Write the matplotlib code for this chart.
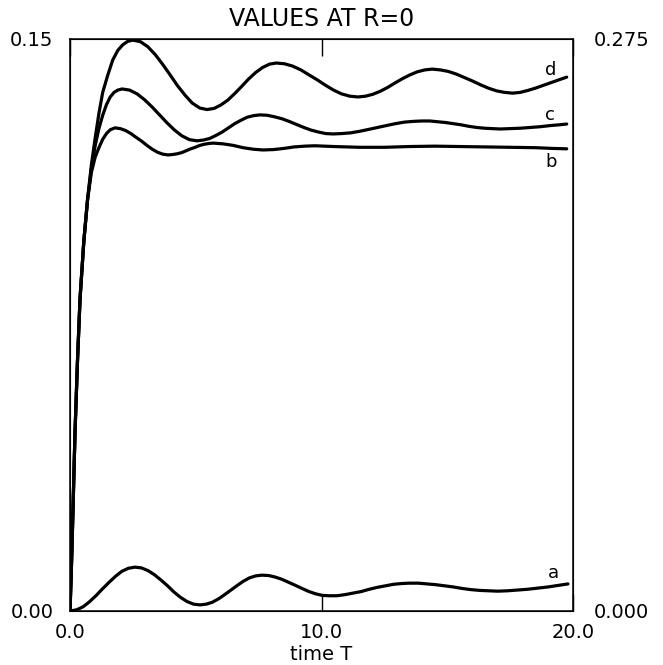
import numpy as np
import matplotlib.pyplot as plt

# values (time T, value at R=0)
t_a = [0.0, 0.26, 0.52, 0.77, 1.03, 1.29, 1.55, 1.81, 2.06, 2.32, 2.58, 2.84, 3.1, 3.36,
       3.62, 3.88, 4.13, 4.39, 4.65, 4.91, 5.17, 5.42, 5.66, 5.91, 6.15, 6.4, 6.65, 6.89,
       7.14, 7.38, 7.63, 7.9, 8.16, 8.43, 8.7, 8.97, 9.23, 9.5, 9.77, 10.03, 10.3, 10.62,
       10.94, 11.26, 11.58, 11.9, 12.22, 12.54, 12.86, 13.18, 13.5, 13.85, 14.2, 14.55,
       14.9, 15.25, 15.6, 15.95, 16.3, 16.65, 17.0, 17.4, 17.8, 18.2, 18.6, 19.0, 19.4, 19.8]
v_a = [0.0, 0.0003, 0.0011, 0.0024, 0.0040, 0.0058, 0.0075, 0.0091, 0.0104, 0.0112, 0.0115,
       0.0113, 0.0106, 0.0095, 0.0081, 0.0066, 0.0050, 0.0036, 0.0025, 0.0018, 0.0016,
       0.0018, 0.0023, 0.0032, 0.0043, 0.0055, 0.0067, 0.0078, 0.0087, 0.0092, 0.0094,
       0.0093, 0.0089, 0.0083, 0.0075, 0.0067, 0.0059, 0.0051, 0.0045, 0.0041, 0.0040,
       0.0040, 0.0043, 0.0047, 0.0051, 0.0057, 0.0062, 0.0066, 0.0070, 0.0072, 0.0073,
       0.0073, 0.0071, 0.0069, 0.0066, 0.0063, 0.0059, 0.0056, 0.0054, 0.0053, 0.0052,
       0.0053, 0.0055, 0.0057, 0.0060, 0.0063, 0.0067, 0.0071]

t_b = [0.0, 0.05, 0.1, 0.2, 0.3, 0.4, 0.55, 0.7, 0.85, 1.0, 1.15, 1.3, 1.45, 1.6, 1.79,
       2.0, 2.21, 2.42, 2.63, 2.85, 3.06, 3.27, 3.48, 3.69, 3.9, 4.08, 4.26, 4.44, 4.62,
       4.8, 4.98, 5.16, 5.34, 5.52, 5.7, 6.09, 6.49, 6.88, 7.28, 7.67, 8.08, 8.5, 8.91,
       9.33, 9.74, 10.5, 11.5, 12.5, 13.5, 14.5, 15.5, 16.5, 17.5, 18.5, 19.2, 19.75]
v_b = [0.0, 0.010, 0.022, 0.047, 0.066, 0.082, 0.097, 0.108, 0.115, 0.119, 0.1215, 0.1237,
       0.1252, 0.1262, 0.1267, 0.1265, 0.1260, 0.1252, 0.1242, 0.1232, 0.1221, 0.1211,
       0.1203, 0.1198, 0.1196, 0.1197, 0.1199, 0.1202, 0.1207, 0.1212, 0.1216, 0.1221,
       0.1224, 0.1226, 0.1227, 0.1225, 0.1221, 0.1215, 0.1211, 0.1209, 0.1210, 0.1213,
       0.1217, 0.1219, 0.1220, 0.1218, 0.1216, 0.1216, 0.1218, 0.1219, 0.1218, 0.1217,
       0.1216, 0.1215, 0.1213, 0.1212]

t_c = [0.0, 0.05, 0.1, 0.2, 0.3, 0.4, 0.55, 0.7, 0.85, 1.0, 1.15, 1.3, 1.45, 1.6, 1.75,
       1.9, 2.07, 2.37, 2.67, 2.96, 3.26, 3.56, 3.86, 4.16, 4.45, 4.75, 5.05, 5.3, 5.55,
       5.8, 6.05, 6.3, 6.55, 6.8, 7.05, 7.3, 7.55, 7.84, 8.13, 8.42, 8.71, 9.0, 9.3, 9.59,
       9.88, 10.17, 10.46, 10.81, 11.17, 11.52, 11.88, 12.23, 12.58, 12.94, 13.29, 13.65,
       14.0, 14.31, 14.62, 14.93, 15.24, 15.55, 15.86, 16.17, 16.48, 16.79, 17.1, 17.5,
       17.9, 18.3, 18.7, 19.1, 19.45, 19.75]
v_c = [0.0, 0.010, 0.022, 0.047, 0.066, 0.082, 0.097, 0.108, 0.116, 0.122, 0.1265, 0.130,
       0.1328, 0.1348, 0.136, 0.1366, 0.1369, 0.1366, 0.1356, 0.1341, 0.1322, 0.1301,
       0.1280, 0.1261, 0.1246, 0.1236, 0.1233, 0.1235, 0.1239, 0.1247, 0.1256, 0.1267,
       0.1278, 0.1287, 0.1295, 0.1299, 0.1301, 0.1300, 0.1296, 0.1291, 0.1284, 0.1276,
       0.1268, 0.1261, 0.1256, 0.1252, 0.1251, 0.1252, 0.1254, 0.1258, 0.1263, 0.1268,
       0.1273, 0.1278, 0.1282, 0.1284, 0.1285, 0.1285, 0.1283, 0.1281, 0.1278, 0.1275,
       0.1271, 0.1268, 0.1266, 0.1265, 0.1264, 0.1265, 0.1266, 0.1268, 0.1270, 0.1273,
       0.1275, 0.1277]

t_d = [0.0, 0.05, 0.1, 0.2, 0.3, 0.4, 0.55, 0.7, 0.85, 1.0, 1.15, 1.3, 1.5, 1.7, 1.9, 2.1,
       2.3, 2.5, 2.8, 3.09, 3.39, 3.68, 3.98, 4.27, 4.57, 4.86, 5.16, 5.45, 5.73, 6.0, 6.28,
       6.55, 6.83, 7.1, 7.38, 7.65, 7.93, 8.2, 8.53, 8.85, 9.18, 9.5, 9.83, 10.15, 10.48,
       10.8, 11.13, 11.45, 11.75, 12.04, 12.34, 12.63, 12.93, 13.22, 13.52, 13.81, 14.11,
       14.4, 14.72, 15.04, 15.36, 15.68, 16.0, 16.32, 16.64, 16.96, 17.28, 17.6, 17.9, 18.2,
       18.5, 18.8, 19.1, 19.4, 19.75]
v_d = [0.0, 0.010, 0.022, 0.047, 0.066, 0.082, 0.097, 0.108, 0.117, 0.124, 0.1305, 0.136,
       0.1405, 0.1445, 0.147, 0.1485, 0.1494, 0.1497, 0.1493, 0.1480, 0.1459, 0.1434,
       0.1406, 0.1378, 0.1353, 0.1332, 0.1319, 0.1315, 0.1318, 0.1327, 0.1340, 0.1357,
       0.1376, 0.1395, 0.1412, 0.1425, 0.1434, 0.1437, 0.1435, 0.1429, 0.1419, 0.1406,
       0.1393, 0.1379, 0.1366, 0.1356, 0.1350, 0.1348, 0.1350, 0.1355, 0.1363, 0.1373,
       0.1385, 0.1396, 0.1406, 0.1414, 0.1419, 0.1421, 0.1419, 0.1415, 0.1408, 0.1399,
       0.1390, 0.1380, 0.1371, 0.1364, 0.1360, 0.1358, 0.1360, 0.1365, 0.1371, 0.1378,
       0.1385, 0.1392, 0.1400]

curve_names = ["a", "b", "c", "d"]
label_pos = [(19.24, 0.0100), (19.13, 0.1178), (19.09, 0.1301), (19.13, 0.1419)]

x_ticks = [0.0, 10.0, 20.0]
x_ticklabels = ["0.0", "10.0", "20.0"]
left_ticks = [0.0, 0.15]
left_ticklabels = ["0.00", "0.15"]
right_ticks = [0.0, 0.275]
right_ticklabels = ["0.000", "0.275"]

fig = plt.figure(figsize=(6.63, 6.65), dpi=100)
ax = fig.add_axes([70/663, 54/665, 503/663, 572/665])

for tt, vv in [(t_a, v_a), (t_b, v_b), (t_c, v_c), (t_d, v_d)]:
    ax.plot(tt, vv, color="black", lw=2.3, solid_capstyle="round", solid_joinstyle="round")

for name, (lx, ly) in zip(curve_names, label_pos):
    ax.text(lx, ly, name, fontsize=13, ha="center", va="center")

ax.set_xlim(0, 20)
ax.set_ylim(0, 0.15)
for s in ax.spines.values():
    s.set_linewidth(1.1)

ax.set_xticks(x_ticks)
ax.set_xticklabels(x_ticklabels)
ax.tick_params(axis="x", direction="in", length=12, width=1.0, top=True,
               labelsize=14, pad=9)
ax.set_yticks(left_ticks)
ax.set_yticklabels(left_ticklabels)
ax.tick_params(axis="y", length=0, labelsize=14, pad=12)

ax2 = ax.twinx()
ax2.set_ylim(0, 0.275)
ax2.set_yticks(right_ticks)
ax2.set_yticklabels(right_ticklabels)
ax2.tick_params(axis="y", length=0, labelsize=14, pad=15)

ax.set_xlabel("time T", fontsize=14, labelpad=2)
ax.set_title("VALUES AT R=0", fontsize=17, pad=9)

fig.savefig("out.png", dpi=100)
